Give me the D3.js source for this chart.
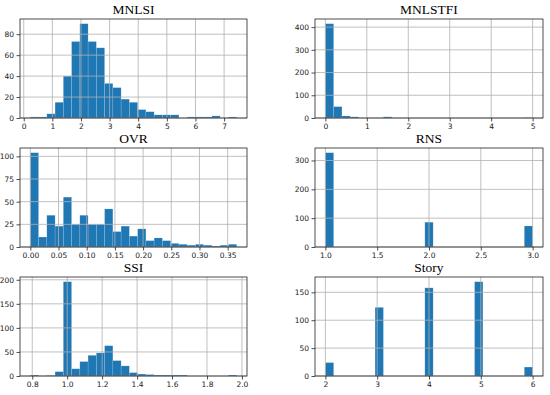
<!DOCTYPE html>
<html>
<head>
<meta charset="utf-8">
<script src="https://cdn.jsdelivr.net/npm/d3@7"></script>
<style>
  body { margin: 0; background: #fff; }
  svg { display: block; }
  .tick text { font-family: "DejaVu Sans", sans-serif; font-size: 7.5px; fill: #1a1a1a; }
  .tick line { stroke: #222; stroke-width: 0.8; }
  .domain { display: none; }
</style>
</head>
<body>
<div id="chart"></div>
<script>
// histogram counts (25 bins each) and the data range the bins span
const mnlsiCounts   = [1, 1, 4, 15, 40, 73, 90, 73, 67, 33, 29, 18, 15, 8, 6, 3, 3, 3, 0, 1, 1, 1, 2, 0, 1];
const mnlsiRange    = [0.23, 7.44];
const mnlstfiCounts = [415, 50, 9, 5, 0, 0, 0, 5, 0, 0, 0, 0, 0, 0, 0, 0, 0, 0, 0, 0, 0, 0, 0, 0, 1];
const mnlstfiRange  = [0, 5];
const ovrCounts     = [104, 11, 35, 23, 55, 25, 35, 25, 25, 42, 17, 23, 12, 20, 7, 10, 7, 4, 3, 2, 3, 2, 1, 2, 3];
const ovrRange      = [0, 0.366];
const rnsCounts     = [327, 0, 0, 0, 0, 0, 0, 0, 0, 0, 0, 0, 86, 0, 0, 0, 0, 0, 0, 0, 0, 0, 0, 0, 73];
const rnsRange      = [1, 3];
const ssiCounts     = [2, 0, 1, 9, 196, 15, 30, 43, 48, 63, 32, 21, 7, 4, 3, 2, 2, 2, 2, 0, 0, 0, 0, 0, 2];
const ssiRange      = [0.789, 1.97];
const storyCounts   = [24, 0, 0, 0, 0, 0, 123, 0, 0, 0, 0, 0, 158, 0, 0, 0, 0, 0, 169, 0, 0, 0, 0, 0, 16];
const storyRange    = [2, 6];

// tick values
const mnlsiXTicks = [0, 1, 2, 3, 4, 5, 6, 7];
const mnlsiYTicks = [0, 20, 40, 60, 80];
const mnlstfiXTicks = [0, 1, 2, 3, 4, 5];
const mnlstfiYTicks = [0, 100, 200, 300, 400];
const ovrXTicks = [0, 0.05, 0.10, 0.15, 0.20, 0.25, 0.30, 0.35];
const ovrYTicks = [0, 25, 50, 75, 100];
const rnsXTicks = [1.0, 1.5, 2.0, 2.5, 3.0];
const rnsYTicks = [0, 100, 200, 300];
const ssiXTicks = [0.8, 1.0, 1.2, 1.4, 1.6, 1.8, 2.0];
const ssiYTicks = [0, 50, 100, 150, 200];
const storyXTicks = [2, 3, 4, 5, 6];
const storyYTicks = [0, 50, 100, 150];

const W = 550, H = 395;
const cols = [{ x0: 20, x1: 247 }, { x0: 315, x1: 543 }];
const rows = [{ y0: 19, y1: 118 }, { y0: 148, y1: 247 }, { y0: 277, y1: 376 }];

const panels = [
  { title: "MNLSI",   counts: mnlsiCounts,   range: mnlsiRange,   xt: mnlsiXTicks,   yt: mnlsiYTicks,   fmt: d3.format("d"),   c: 0, r: 0 },
  { title: "MNLSTFI", counts: mnlstfiCounts, range: mnlstfiRange, xt: mnlstfiXTicks, yt: mnlstfiYTicks, fmt: d3.format("d"),   c: 1, r: 0 },
  { title: "OVR",     counts: ovrCounts,     range: ovrRange,     xt: ovrXTicks,     yt: ovrYTicks,     fmt: d3.format(".2f"), c: 0, r: 1 },
  { title: "RNS",     counts: rnsCounts,     range: rnsRange,     xt: rnsXTicks,     yt: rnsYTicks,     fmt: d3.format(".1f"), c: 1, r: 1 },
  { title: "SSI",     counts: ssiCounts,     range: ssiRange,     xt: ssiXTicks,     yt: ssiYTicks,     fmt: d3.format(".1f"), c: 0, r: 2 },
  { title: "Story",   counts: storyCounts,   range: storyRange,   xt: storyXTicks,   yt: storyYTicks,   fmt: d3.format("d"),   c: 1, r: 2 }
];

const svg = d3.select("#chart").append("svg")
    .attr("width", W)
    .attr("height", H);

panels.forEach(p => {
    const { x0, x1 } = cols[p.c];
    const { y0, y1 } = rows[p.r];
    const [lo, hi] = p.range;
    const pad = (hi - lo) * 0.05;
    const binW = (hi - lo) / p.counts.length;

    const x = d3.scaleLinear().domain([lo - pad, hi + pad]).range([x0, x1]);
    const y = d3.scaleLinear().domain([0, d3.max(p.counts) * 1.05]).range([y1, y0]);

    const g = svg.append("g");

    // bars
    const bins = p.counts.map((n, i) => ({ a: lo + i * binW, b: lo + (i + 1) * binW, n }))
                         .filter(d => d.n > 0);
    g.selectAll("rect.bar")
        .data(bins)
        .enter().append("rect")
        .attr("class", "bar")
        .attr("x", d => x(d.a))
        .attr("width", d => x(d.b) - x(d.a))
        .attr("y", d => y(d.n))
        .attr("height", d => y(0) - y(d.n))
        .style("fill", "#1f77b4")
        .style("stroke", "rgba(255,255,255,0.22)")
        .style("stroke-width", 0.6);

    // grid sits above the bars, like matplotlib does
    g.selectAll("line.vgrid")
        .data(p.xt)
        .enter().append("line")
        .attr("x1", d => x(d)).attr("x2", d => x(d))
        .attr("y1", y0).attr("y2", y1)
        .style("stroke", "#b0b0b0").style("stroke-width", 0.8);
    g.selectAll("line.hgrid")
        .data(p.yt)
        .enter().append("line")
        .attr("x1", x0).attr("x2", x1)
        .attr("y1", d => y(d)).attr("y2", d => y(d))
        .style("stroke", "#b0b0b0").style("stroke-width", 0.8);

    // frame
    g.append("rect")
        .attr("x", x0).attr("y", y0)
        .attr("width", x1 - x0).attr("height", y1 - y0)
        .style("fill", "none")
        .style("stroke", "#222")
        .style("stroke-width", 0.8);

    // axes
    g.append("g")
        .attr("transform", `translate(0,${y1})`)
        .call(d3.axisBottom(x).tickValues(p.xt).tickFormat(p.fmt).tickSize(3.5).tickPadding(2.5));
    g.append("g")
        .attr("transform", `translate(${x0},0)`)
        .call(d3.axisLeft(y).tickValues(p.yt).tickFormat(d3.format("d")).tickSize(3.5).tickPadding(2.5));

    // title
    g.append("text")
        .attr("x", (x0 + x1) / 2)
        .attr("y", y0 - 5)
        .style("text-anchor", "middle")
        .style("font-family", "'Liberation Serif', 'Times New Roman', serif")
        .style("font-size", "13.5px")
        .style("fill", "#000")
        .text(p.title);
});
</script>
</body>
</html>
